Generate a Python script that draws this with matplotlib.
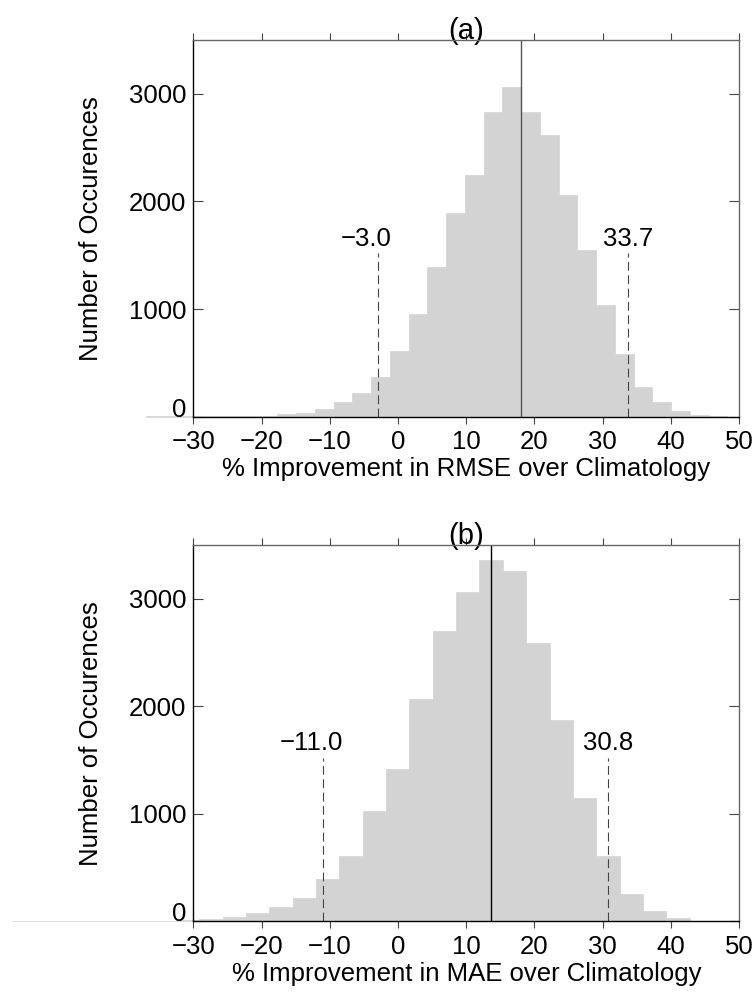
import numpy as np
import matplotlib
matplotlib.use('Agg')
import matplotlib.pyplot as plt

plt.rcParams['font.family'] = ['Liberation Sans', 'DejaVu Sans']
plt.rcParams['font.size'] = 18.5

# Panel (a): RMSE improvement histogram
rmse_bin_start = -36.95
rmse_bin_width = 2.75
rmse_counts = [4, 4, 4, 5, 5, 7, 10, 22, 34, 71, 136, 220, 369, 614, 958, 1395,
               1894, 2248, 2830, 3060, 2835, 2614, 2062, 1550, 1042, 583, 276,
               136, 53, 16, 5]
rmse_mean = 18.0
rmse_bounds = [-3.0, 33.7]

# Panel (b): MAE improvement histogram
mae_bin_start = -56.56
mae_bin_width = 3.425
mae_counts = [4, 4, 4, 4, 4, 4, 7, 9, 19, 43, 80, 137, 220, 398, 609, 1028,
              1419, 2071, 2696, 3060, 3358, 3258, 2590, 1876, 1146, 609, 255,
              96, 28, 5]
mae_mean = 13.7
mae_bounds = [-11.0, 30.8]

panels = [
    ('(a)', '% Improvement in RMSE over Climatology', rmse_bin_start, rmse_bin_width,
     rmse_counts, rmse_mean, rmse_bounds, '#555555'),
    ('(b)', '% Improvement in MAE over Climatology', mae_bin_start, mae_bin_width,
     mae_counts, mae_mean, mae_bounds, 'black'),
]

W, H = 756, 994
fig = plt.figure(figsize=(W / 100, H / 100), dpi=100)

# axes boxes in pixels: left, top, right, bottom
boxes = [(193.5, 40, 739, 416.7), (193.5, 545, 739, 921.3)]

for (title, xlabel, start, width, counts, mean, bounds, mean_color), box in zip(panels, boxes):
    l, t, r, b = box
    ax = fig.add_axes([l / W, 1 - b / H, (r - l) / W, (b - t) / H])

    edges = start + width * np.arange(len(counts) + 1)
    ax.bar(edges[:-1], counts, width=np.diff(edges), align='edge',
           color='#d3d3d3', edgecolor='#d3d3d3', linewidth=0.5,
           clip_on=False, zorder=1)

    # mean line across the full height
    ax.axvline(mean, color=mean_color, lw=1.0, zorder=3)

    # dashed lines at the bounds, with labels
    for v in bounds:
        ax.plot([v, v], [0, 1520], color='#444444', lw=0.8,
                linestyle=(0, (8, 4)), zorder=3)
        label = f'{v:.1f}'.replace('-', '\u2212')
        dx = -8.5 if v < 0 else 0
        ax.annotate(label, xy=(v, 1590), xytext=(dx, 0), textcoords='offset points',
                    ha='center', va='baseline')

    ax.set_xlim(-30, 50)
    ax.set_ylim(0, 3500)
    ax.set_xticks(np.arange(-30, 51, 10))
    ax.set_yticks([0, 1000, 2000, 3000])

    ax.tick_params(axis='x', direction='out', top=True, length=4.8, width=0.8,
                   color='#444444', pad=5)
    ax.tick_params(axis='y', direction='in', right=True, length=7.5, width=0.8,
                   color='#444444', pad=5)
    ax.get_yticklabels()[0].set_va('baseline')

    for side in ['left', 'bottom']:
        ax.spines[side].set_color('black')
        ax.spines[side].set_linewidth(1.0)
    for side in ['top', 'right']:
        ax.spines[side].set_color('#666666')
        ax.spines[side].set_linewidth(1.0)
    for s in ax.spines.values():
        s.set_zorder(4)

    ax.set_xlabel(xlabel, labelpad=2)
    ax.set_ylabel('Number of Occurences')
    ax.yaxis.set_label_coords((103 - l) / (r - l), 0.5)
    ax.set_title(title, pad=1, fontsize=21)

fig.savefig('out.png', dpi=100)
